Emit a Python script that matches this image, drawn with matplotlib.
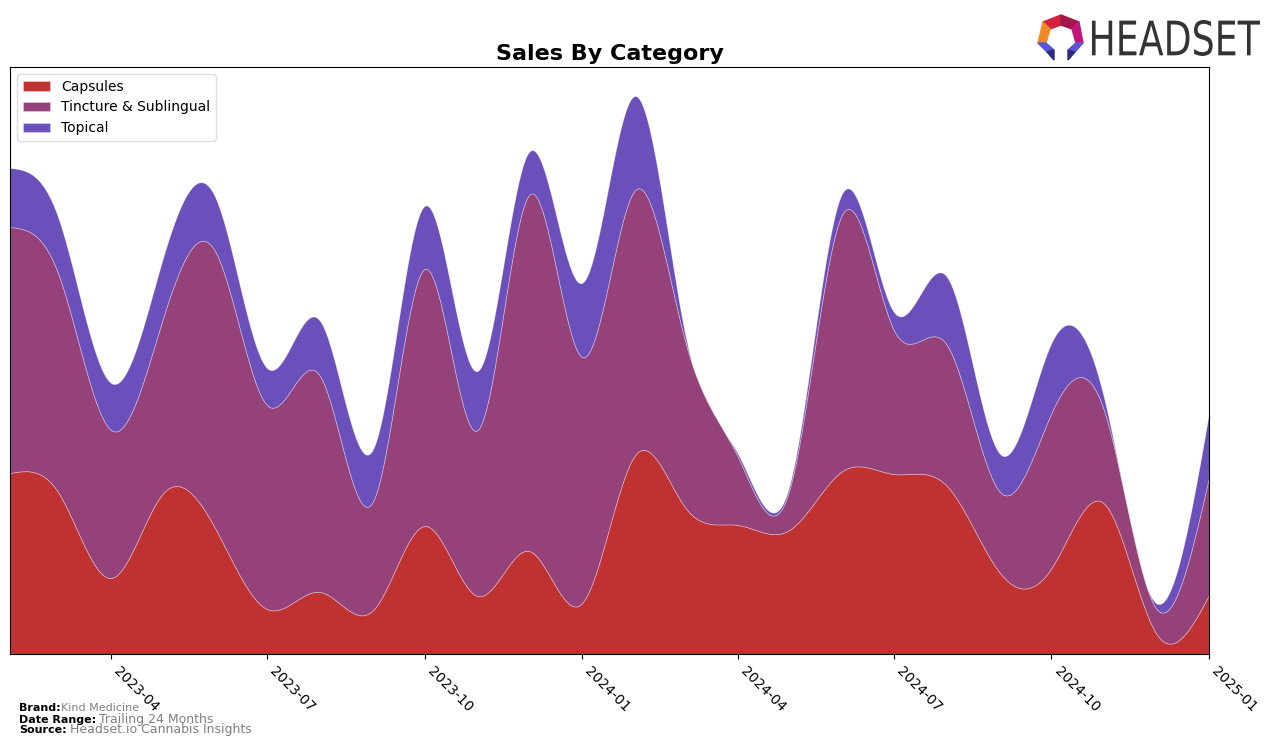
import numpy as np
import matplotlib
matplotlib.use('Agg')
import matplotlib.pyplot as plt
import matplotlib.dates as mdates
from matplotlib.patches import Polygon, PathPatch
from matplotlib.textpath import TextPath
from matplotlib.font_manager import FontProperties
from matplotlib.transforms import Affine2D
import datetime as dt


monate = ['2023-02', '2023-03', '2023-04', '2023-05', '2023-06', '2023-07',
          '2023-08', '2023-09', '2023-10', '2023-11', '2023-12', '2024-01',
          '2024-02', '2024-03', '2024-04', '2024-05', '2024-06', '2024-07',
          '2024-08', '2024-09', '2024-10', '2024-11', '2024-12', '2025-01']

kategorien = ['Capsules', 'Tincture & Sublingual', 'Topical']

capsules = np.array([181, 162, 76, 160, 125, 45, 62, 44, 128, 58, 103, 51,
                     199, 147, 129, 124, 183, 180, 168, 81, 86, 150, 21, 59])
tincture = np.array([246, 219, 148, 174, 277, 204, 216, 109, 257, 166, 356, 246,
                     265, 167, 68, 40, 257, 144, 141, 81, 155, 92, 25, 118])
topical = np.array([59, 56, 47, 60, 54, 37, 55, 52, 63, 59, 43, 74,
                    94, 7, 3, 4, 21, 18, 68, 38, 70, 12, 5, 64])

farben = ['#c03232', '#96427a', '#6b4fbb']

tick_labels = ['2023-04', '2023-07', '2023-10', '2024-01', '2024-04',
               '2024-07', '2024-10', '2025-01']


def spline(x, y, xneu):
    # natuerlicher kubischer Spline
    n = len(x)
    h = np.diff(x)
    A = np.zeros((n, n))
    b = np.zeros(n)
    A[0, 0] = 1
    A[-1, -1] = 1
    for i in range(1, n - 1):
        A[i, i - 1] = h[i - 1]
        A[i, i] = 2 * (h[i - 1] + h[i])
        A[i, i + 1] = h[i]
        b[i] = 6 * ((y[i + 1] - y[i]) / h[i] - (y[i] - y[i - 1]) / h[i - 1])
    M = np.linalg.solve(A, b)
    idx = np.clip(np.searchsorted(x, xneu) - 1, 0, n - 2)
    x0 = x[idx]
    x1 = x[idx + 1]
    hh = h[idx]
    s = (M[idx] * (x1 - xneu)**3 / (6 * hh) + M[idx + 1] * (xneu - x0)**3 / (6 * hh)
         + (y[idx] / hh - M[idx] * hh / 6) * (x1 - xneu)
         + (y[idx + 1] / hh - M[idx + 1] * hh / 6) * (xneu - x0))
    return s


daten = [dt.datetime.strptime(m, '%Y-%m') for m in monate]
x = mdates.date2num(daten)
xfein = np.linspace(x[0], x[-1], 1000)

glatt = [np.clip(spline(x, np.array(s, float), xfein), 0, None)
         for s in (capsules, tincture, topical)]

fig = plt.figure(figsize=(12.76, 7.47), dpi=100)
ax = fig.add_axes([10 / 1276, 93 / 747, 1199 / 1276, 587 / 747])

ax.stackplot(xfein, *glatt, labels=kategorien, colors=farben,
             edgecolor=(1, 1, 1, 0.35), linewidth=0.6)

ax.set_xlim(x[0], x[-1])
ax.set_ylim(0, 587)
ax.set_yticks([])

ticks = mdates.date2num([dt.datetime.strptime(t, '%Y-%m') for t in tick_labels])
ax.set_xticks(ticks)
ax.set_xticklabels(tick_labels, rotation=-45, ha='left', fontsize=10)

ax.set_title('Sales By Category', fontsize=16, fontweight='bold', pad=5)
ax.legend(loc='upper left', fontsize=10, framealpha=1, edgecolor='#dddddd',
          handlelength=2.0)

# Fusszeile
fig.text(19 / 1276, 1 - 708 / 747, 'Brand:', fontsize=8, fontweight='bold', va='center')
fig.text(61 / 1276, 1 - 708 / 747, 'Kind Medicine', fontsize=8, color='gray', va='center')
fig.text(19 / 1276, 1 - 720 / 747, 'Date Range:', fontsize=8, fontweight='bold', va='center')
fig.text(99 / 1276, 1 - 719 / 747, 'Trailing 24 Months', fontsize=9, color='gray', va='center')
fig.text(19 / 1276, 1 - 730 / 747, 'Source:', fontsize=8, fontweight='bold', va='center')
fig.text(70 / 1276, 1 - 730 / 747, 'Headset.io Cannabis Insights', fontsize=9, color='gray',
         va='center')


# Logo
def P(px, py):
    return (px / 1276, 1 - py / 747)


logo = [
    ([(1043, 22), (1061, 15), (1061, 25), (1050, 29)], '#d4213d'),
    ([(1061, 15), (1079, 22), (1072, 29), (1061, 25)], '#a3174f'),
    ([(1079, 22), (1083, 43), (1076, 43), (1072, 29)], '#c2177a'),
    ([(1043, 22), (1050, 29), (1046, 43), (1038, 43)], '#f08a24'),
    ([(1038, 43), (1046, 43), (1054, 50), (1047, 52)], '#5a55d6'),
    ([(1047, 52), (1054, 50), (1054, 60)], '#2c2a7a'),
    ([(1083, 43), (1076, 43), (1068, 50), (1075, 52)], '#5a55d6'),
    ([(1075, 52), (1068, 50), (1068, 60)], '#2c2a7a'),
]
for pts, c in logo:
    fig.patches.append(Polygon([P(*p) for p in pts], closed=True, color=c,
                               transform=fig.transFigure, figure=fig))

# Schriftzug schmal gestaucht: Box x 1092..1260, y 20..56 (Pixel)
tp = TextPath((0, 0), 'HEADSET', size=10, prop=FontProperties(family='DejaVu Sans'))
bb = tp.get_extents()
sx = (1260 - 1092) / bb.width / 1276
sy = (56 - 20) / bb.height / 747
tr = (Affine2D().translate(-bb.x0, -bb.y0).scale(sx, sy)
      .translate(1092 / 1276, 1 - 56 / 747) + fig.transFigure)
fig.patches.append(PathPatch(tp, transform=tr, color='#333333', lw=0, figure=fig))

plt.savefig('out.png', dpi=100)
